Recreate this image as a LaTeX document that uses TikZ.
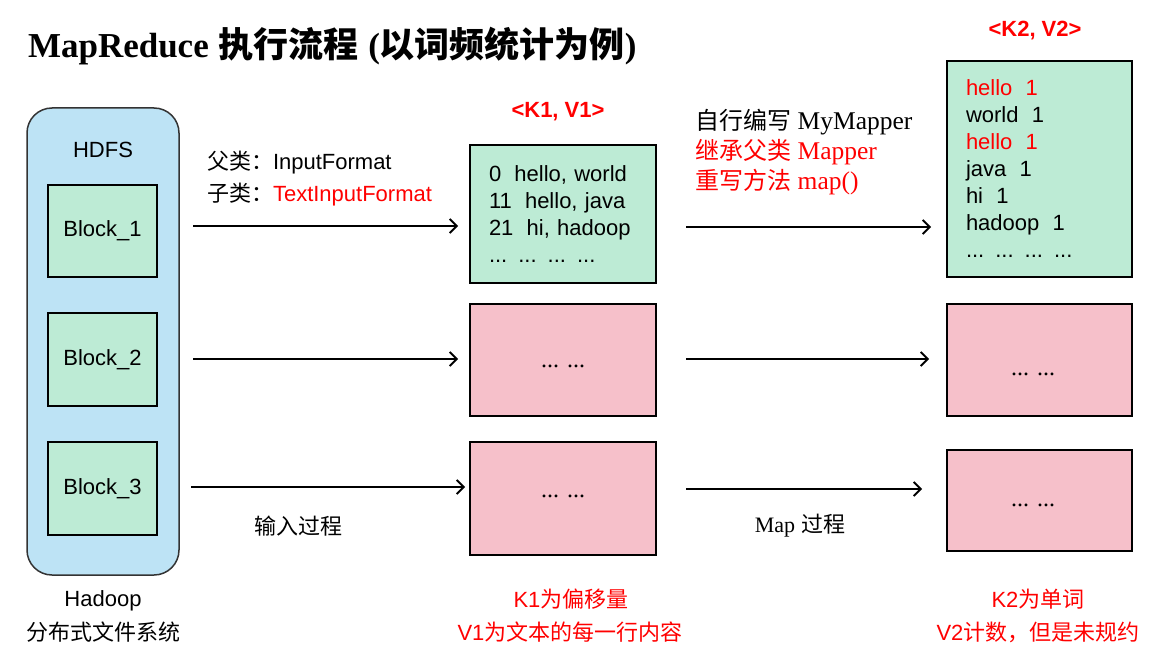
\documentclass[tikz,border=0pt]{standalone}
\usepackage{fontspec}
\setmainfont{Liberation Sans}
\newfontfamily\cjk{Noto Sans CJK SC}
\newfontfamily\serif{Liberation Serif}
\usetikzlibrary{arrows.meta}
\definecolor{hblue}{HTML}{BDE3F5}
\definecolor{bgreen}{HTML}{BDEBD5}
\definecolor{bpink}{HTML}{F6C0CA}
\definecolor{tred}{HTML}{FF0000}
\definecolor{hborder}{HTML}{333333}
\newcommand{\zh}[1]{{\cjk #1}}
\newcommand{\se}[1]{{\serif #1}}
\newcommand{\sebig}[1]{{\serif\fontsize{25.5}{30}\selectfont #1}}
\newcommand{\gap}{\hspace{0.6em}}
\begin{document}
\begin{tikzpicture}[x=1pt,y=-1pt,
  every node/.style={font=\fontsize{22}{27}\selectfont, inner sep=0pt, outer sep=0pt},
  blk/.style={draw=black, line width=2.5pt, fill=bgreen, minimum width=109pt, minimum height=92pt},
  gbox/.style={draw=black, line width=2.5pt, fill=bgreen},
  pbox/.style={draw=black, line width=2.5pt, fill=bpink, minimum width=186pt},
  dots/.style={font=\fontsize{24}{28}\selectfont\serif, anchor=base},
  arr/.style={line width=1.8pt, -{Straight Barb[length=7pt,width=14pt]}},
  big/.style={font=\fontsize{24}{30}\selectfont, anchor=west},
  ]
\useasboundingbox[fill=white] (0,0) rectangle (1169,655);

% title
\node[anchor=base west, font=\fontsize{35}{40}\selectfont\bfseries] (title) at (28,58)
  {\se{MapReduce} \zh{执行流程} \se{(}\zh{以词频统计为例}\se{)}};

% HDFS
\node[draw=hborder, line width=1.5pt, fill=hblue, rounded corners=25pt,
      minimum width=152pt, minimum height=467pt] (hdfs) at (103,341.5) {};
\node (hdfslbl) at (103,150) {HDFS};
\node[blk] (b1) at (102.5,231) {Block\_1};
\node[blk, minimum height=93pt] (b2) at (102.5,359.5) {Block\_2};
\node[blk, minimum height=93pt] (b3) at (102.5,488.5) {Block\_3};
\node (had1) at (103,601) {Hadoop};
\node (had2) at (103,632) {\zh{分布式文件系统}};

% middle boxes
\node[gbox, minimum width=186pt, minimum height=138pt, text width=148pt, align=left] (m1) at (563,214)
  {0\gap hello, world\\11\gap hello, java\\21\gap hi, hadoop\\... ... ... ...};
\node[pbox, minimum height=112pt] (m2) at (563,360) {};
\node[pbox, minimum height=113pt] (m3) at (563,498.5) {};
\node[dots] (m2t) at (563,367) {... ...};
\node[dots] (m3t) at (563,497) {... ...};

% right boxes
\node[gbox, minimum width=185pt, minimum height=216pt, text width=147pt, align=left] (r1) at (1039.5,169)
  {\textcolor{tred}{hello\gap 1}\\world\gap 1\\\textcolor{tred}{hello\gap 1}\\java\gap 1\\hi\gap 1\\hadoop\gap 1\\... ... ... ...};
\node[pbox, minimum width=185pt, minimum height=112pt] (r2) at (1039.5,360) {};
\node[pbox, minimum width=185pt, minimum height=101pt] (r3) at (1039.5,500.5) {};
\node[dots] (r2t) at (1033,375) {... ...};
\node[dots] (r3t) at (1033,506) {... ...};

% headers
\node[font=\fontsize{22}{27}\selectfont\bfseries, text=tred] (kv1) at (558,112) {<K1, V1>};
\node[font=\fontsize{22}{27}\selectfont\bfseries, text=tred] (kv2) at (1035,31) {<K2, V2>};

% input labels
\node[anchor=west] (in1) at (207,163) {\zh{父类：}InputFormat};
\node[anchor=west] (in2) at (207,195) {\zh{子类：}\textcolor{tred}{TextInputFormat}};

% mapper labels
\node[big] (mp1) at (695,122) {\zh{自行编写} \sebig{MyMapper}};
\node[big, text=tred] (mp2) at (695,152) {\zh{继承父类} \sebig{Mapper}};
\node[big, text=tred] (mp3) at (695,182) {\zh{重写方法} \sebig{map()}};

% process labels
\node (p1) at (298,526) {\zh{输入过程}};
\node (p2) at (800,526) {\se{Map} \zh{过程}};

% bottom labels
\node[text=tred] (k1) at (571,599) {K1\zh{为偏移量}};
\node[text=tred] (v1) at (570,632) {V1\zh{为文本的每一行内容}};
\node[text=tred] (k2) at (1038,599) {K2\zh{为单词}};
\node[text=tred] (v2) at (1038,632) {V2\zh{计数，但是未规约}};

% arrows
\coordinate (a1) at (193,226);
\coordinate (a2) at (193,359);
\coordinate (a3) at (191,487);
\coordinate (c1) at (686,227);
\coordinate (c2) at (686,359);
\coordinate (c3) at (686,489);
\draw[arr, shorten >=12pt] (a1) -- (a1 -| m1.west);
\draw[arr, shorten >=12pt] (a2) -- (a2 -| m2.west);
\draw[arr, shorten >=5pt] (a3) -- (a3 -| m3.west);
\draw[arr, shorten >=16pt] (c1) -- (c1 -| r1.west);
\draw[arr, shorten >=18pt] (c2) -- (c2 -| r2.west);
\draw[arr, shorten >=25pt] (c3) -- (c3 -| r3.west);
\end{tikzpicture}
\end{document}
